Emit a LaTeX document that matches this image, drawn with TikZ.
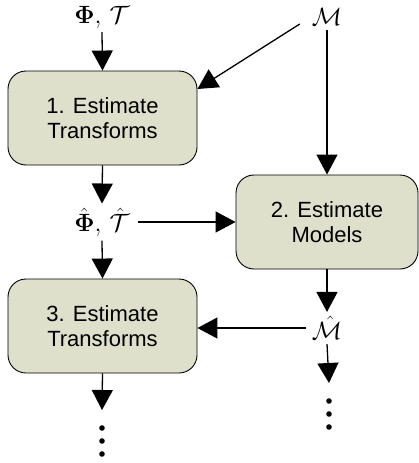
\RequirePackage{fix-cm}
\documentclass[tikz,border=0pt]{standalone}
\usepackage[no-math]{fontspec}
\newfontfamily\boxfont{Liberation Sans}
\usetikzlibrary{arrows.meta}
\definecolor{boxfill}{RGB}{222,224,204}
\begin{document}
\begin{tikzpicture}[x=1pt,y=-1pt,
  stepbox/.style={draw=black, line width=0.9pt, fill=boxfill, rounded corners=18pt,
    minimum width=189pt, minimum height=94pt, align=center, inner sep=0pt,
    font=\boxfont\fontsize{22}{25}\selectfont},
  mlabel/.style={font=\fontsize{25}{29}\selectfont, inner sep=0pt},
  flow/.style={line width=1.3pt, -{Triangle[length=20pt,width=21pt]}},
  dotcol/.style={minimum width=8pt, minimum height=32pt, inner sep=0pt, outer xsep=0pt, outer ysep=15pt,
    path picture={
      \fill (path picture bounding box.center) circle[radius=2.8pt];
      \fill ([yshift=13pt]path picture bounding box.center) circle[radius=2.8pt];
      \fill ([yshift=-13pt]path picture bounding box.center) circle[radius=2.8pt];
    }},
]
\useasboundingbox (0,0) rectangle (418,463);
% boxes
\node[stepbox] (b1) at (102.5,118) {1. Estimate\\Transforms};
\node[stepbox, minimum width=182pt] (b2) at (327,222) {2. Estimate\\Models};
\node[stepbox] (b3) at (102.5,326) {3. Estimate\\Transforms};
% labels
\node[mlabel] (pt) at (102,17) {$\mathbf{\Phi},\,\mathcal{T}$};
\node[mlabel] (m) at (327,17) {$\mathcal{M}$};
\node[mlabel] (ph) at (102,222) {$\hat{\mathbf{\Phi}},\,\hat{\mathcal{T}}$};
\node[mlabel] (mh) at (327,328) {$\hat{\mathcal{M}}$};
\node[dotcol] (d1) at (102,441) {};
\node[dotcol] (d2) at (329,414) {};
% connectors
\draw[flow] ([yshift=-4pt]pt.south) -- (b1.north);
\draw[flow] ([xshift=-12pt,yshift=-7pt]m.west) -- ([yshift=29pt]b1.east);
\draw[flow] ([yshift=-4pt]m.south) -- (b2.north);
\draw[flow] (b1.south) -- ([yshift=4pt]ph.north);
\draw[flow] ([xshift=8pt]ph.east) -- (b2.west);
\draw[flow] ([yshift=-4pt]ph.south) -- (b3.north);
\draw[flow] (b2.south) -- ([yshift=4pt]mh.north);
\draw[flow] ([xshift=-6pt]mh.west) -- (mh.west -| b3.east);
\draw[flow] ([yshift=-4pt]mh.south) -- (d2.north);
\draw[flow] (b3.south) -- (d1.north);
\end{tikzpicture}
\end{document}
